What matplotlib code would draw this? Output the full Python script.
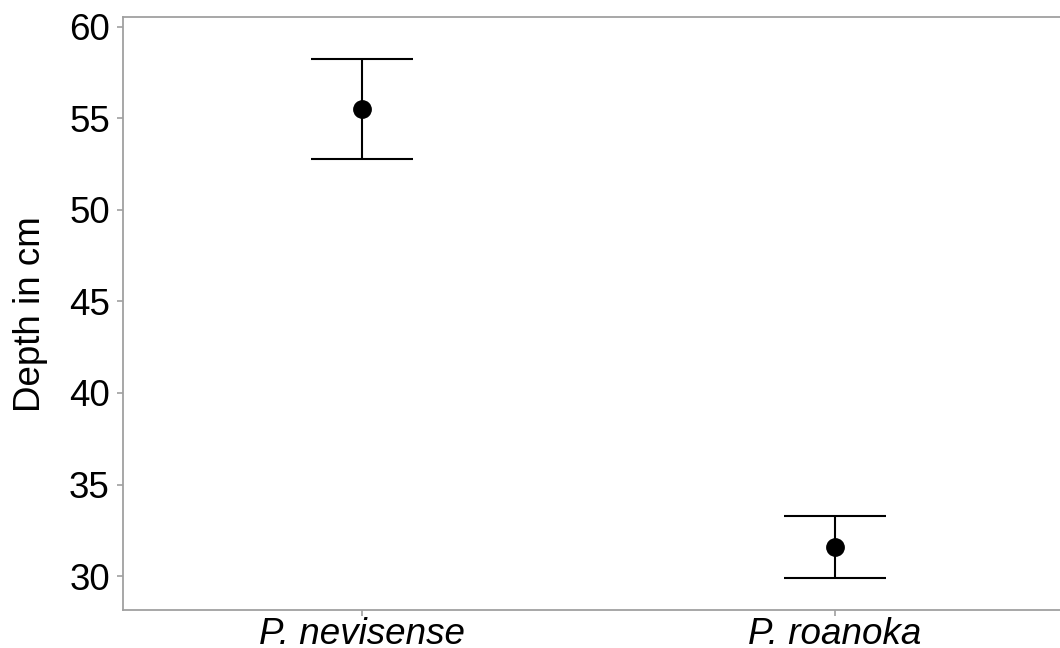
import matplotlib.pyplot as plt

plt.rcParams['font.family'] = ['Liberation Sans', 'DejaVu Sans']

# data
species = ['P. nevisense', 'P. roanoka']
means = [55.5, 31.6]
lower = [52.8, 29.9]
upper = [58.23, 33.28]

W, H = 1060, 648
fig = plt.figure(figsize=(W / 100, H / 100), dpi=100)
# axes extends slightly past the right edge, as in the reference
left, right, top, bottom = 122.7, 1074, 17.3, 610
ax = fig.add_axes([left / W, 1 - bottom / H, (right - left) / W, (bottom - top) / H])

x = list(range(1, len(species) + 1))
yerr = [[m - lo for m, lo in zip(means, lower)], [up - m for m, up in zip(means, upper)]]
ax.errorbar(x, means, yerr=yerr, fmt='o', color='black', ms=12.5,
            elinewidth=1.5, capsize=37, capthick=1.5, zorder=3)

ax.set_xlim(0.495, 2.505)
ax.set_ylim(28.15, 60.51)
ax.set_yticks([30, 35, 40, 45, 50, 55, 60])
ax.set_xticks(x)
ax.set_xticklabels(species, fontstyle='italic')
ax.set_ylabel('Depth in cm', fontsize=26.5, labelpad=15)

for s in ax.spines.values():
    s.set_color('#a0a0a0')
    s.set_linewidth(1.3)
ax.tick_params(colors='#a0a0a0', labelcolor='black', labelsize=26.5, length=4.3, width=1.2)
ax.tick_params(axis='y', pad=5)
ax.tick_params(axis='x', pad=1)

fig.savefig('out.png', dpi=100)
